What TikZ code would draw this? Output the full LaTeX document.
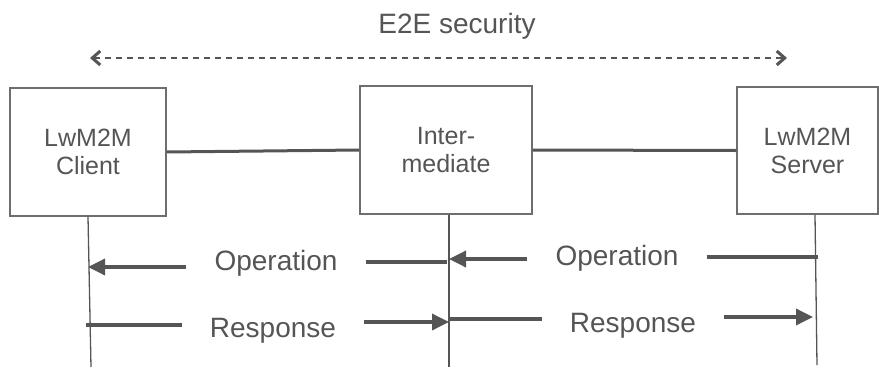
\documentclass[tikz,border=0pt]{standalone}
\usepackage{fontspec}
\setmainfont{Liberation Sans}
\usetikzlibrary{arrows.meta}
\definecolor{ink}{HTML}{555555}
\definecolor{frame}{HTML}{6E6E6E}
\tikzset{
  entity/.style={draw=frame, line width=1.3pt, fill=white, align=center, text=ink,
    font=\fontsize{25}{28}\selectfont, inner sep=0pt},
  lbl/.style={text=ink, font=\fontsize{28}{32}\selectfont, inner ysep=0pt, inner xsep=28pt, anchor=base},
  link/.style={draw=ink, line width=3pt},
  lifeline/.style={draw=ink, line width=1.3pt},
  msg/.style={draw=ink, line width=3.5pt},
  tip/.style={-{Triangle[length=17pt,width=16pt]}},
  e2e/.style={draw=ink, line width=1.5pt, dash pattern=on 6pt off 5pt,
    {Straight Barb[length=8pt,width=14pt,line width=3pt]}-{Straight Barb[length=8pt,width=14pt,line width=3pt]}},
}
\begin{document}
\begin{tikzpicture}[x=1pt,y=-1pt]
    \useasboundingbox (0,0) rectangle (879,370);
    % end-to-end span
    \node[lbl] (sec) at (457,33) {E2E security};
    \coordinate (sec-l) at (90,58);
    \coordinate (sec-r) at (787,58);
    \draw[e2e] (sec-l) -- (sec-r);
    % the three parties
    \node[entity, minimum width=156pt, minimum height=128pt] (client) at (88,152) {LwM2M\\Client};
    \node[entity, minimum width=172pt, minimum height=128pt] (inter) at (446,150) {Inter-\\mediate};
    \node[entity, minimum width=141pt, minimum height=127pt] (server) at (807.5,150.5) {LwM2M\\Server};
    \draw[link] (client.east) -- (inter.west);
    \draw[link] (inter.east) -- (server.west);
    % lifelines
    \coordinate (client-end) at (91,367);
    \coordinate (inter-end) at (449,367);
    \coordinate (server-end) at (817,365);
    \draw[lifeline] (client.south) -- (client-end);
    \draw[lifeline] ([xshift=3pt]inter.south) -- (inter-end);
    \draw[lifeline] ([xshift=7.5pt]server.south) -- (server-end);
    % operation, server -> intermediate -> client
    \node[lbl] (opR) at (617,265) {Operation};
    \node[lbl] (opL) at (276,270) {Operation};
    \coordinate (s-op) at (818,257);
    \coordinate (i-op) at (449,259);
    \coordinate (i-op2) at (447,262);
    \coordinate (c-op) at (88,267);
    \draw[msg] (opR.east |- s-op) -- (s-op);
    \draw[msg, tip] (opR.west |- i-op) -- (i-op);
    \draw[msg] (opL.east |- i-op2) -- (i-op2);
    \draw[msg, tip] (opL.west |- c-op) -- (c-op);
    % response, client -> intermediate -> server
    \node[lbl] (reL) at (273,337) {Response};
    \node[lbl] (reR) at (633,332) {Response};
    \coordinate (c-re) at (86,325);
    \coordinate (i-re) at (449,322);
    \coordinate (i-re2) at (449,319);
    \coordinate (s-re) at (813,317);
    \draw[msg] (c-re) -- (reL.west |- c-re);
    \draw[msg, tip] (reL.east |- i-re) -- (i-re);
    \draw[msg] (i-re2) -- (reR.west |- i-re2);
    \draw[msg, tip] (reR.east |- s-re) -- (s-re);
\end{tikzpicture}
\end{document}
